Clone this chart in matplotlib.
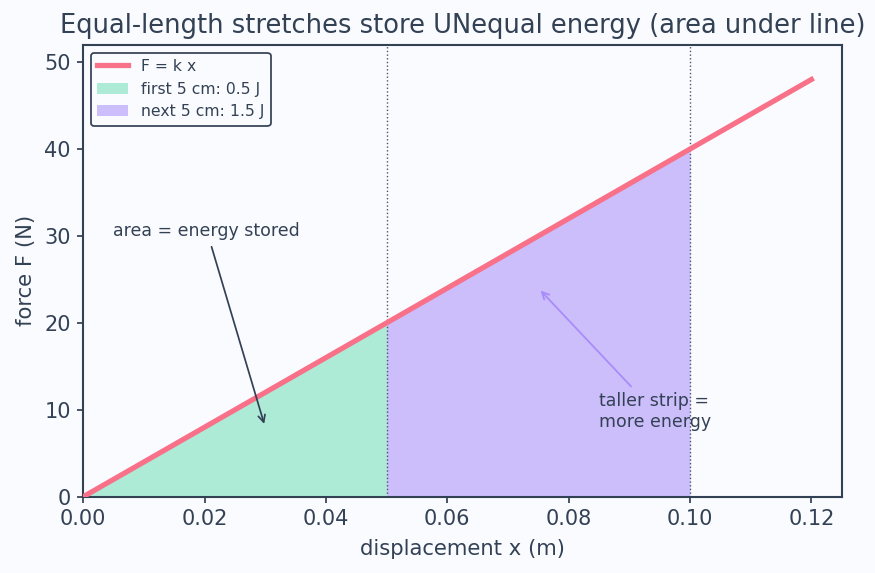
import numpy as np
import matplotlib
matplotlib.use("Agg")
import matplotlib.pyplot as plt

# spring data
k = 400.0  # N/m
x_line = [0.0, 0.12]
F_line = [0.0, 48.0]
strip1_x = [0.0, 0.05]
strip2_x = [0.05, 0.10]
marks_x = [0.05, 0.10]

ink = "#334155"
bg = "#fafbfe"

fig, ax = plt.subplots(figsize=(7.0, 4.584), dpi=125)
fig.patch.set_facecolor(bg)
ax.set_facecolor(bg)

xs1 = np.array(strip1_x)
xs2 = np.array(strip2_x)
ax.fill_between(xs1, 0, k * xs1, color="#34d399", alpha=0.38, lw=0, label="first 5 cm: 0.5 J")
ax.fill_between(xs2, 0, k * xs2, color="#a78bfa", alpha=0.55, lw=0, label="next 5 cm: 1.5 J")
ax.plot(x_line, F_line, color="#f87189", lw=3, label="F = k x", zorder=3)

for xm in marks_x:
    ax.axvline(xm, color="#475569", lw=0.8, linestyle=":", zorder=2)

ax.annotate("area = energy stored", xy=(0.03, 8), xytext=(0.005, 30),
            fontsize=10, color=ink,
            arrowprops=dict(arrowstyle="->", color=ink, lw=1))
ax.annotate("taller strip =\nmore energy", xy=(0.075, 24), xytext=(0.085, 8),
            fontsize=10, color=ink,
            arrowprops=dict(arrowstyle="->", color="#a78bfa", lw=1))

ax.set_xlim(0, 0.125)
ax.set_ylim(0, 52)
ax.set_xlabel("displacement x (m)", fontsize=12.2, color=ink, labelpad=6)
ax.set_ylabel("force F (N)", fontsize=12.2, color=ink, labelpad=5)
ax.set_title("Equal-length stretches store UNequal energy (area under line)", fontsize=14.8, color=ink, pad=7)
ax.tick_params(colors=ink, labelsize=12, width=1)
for s in ax.spines.values():
    s.set_color(ink)
    s.set_linewidth(1.2)

handles, labels = ax.get_legend_handles_labels()
order = [2, 0, 1]
leg = ax.legend([handles[i] for i in order], [labels[i] for i in order],
                loc="upper left", fontsize=9, frameon=True, edgecolor=ink, facecolor=bg, framealpha=1)
for t in leg.get_texts():
    t.set_color(ink)

fig.subplots_adjust(left=0.095, right=0.962, top=0.922, bottom=0.133)
fig.savefig("out.png", dpi=125, facecolor=bg)
